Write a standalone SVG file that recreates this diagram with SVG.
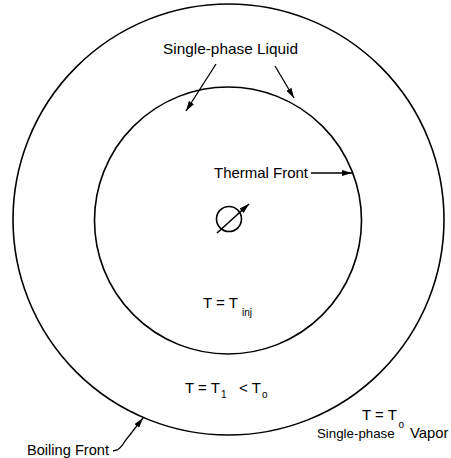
<svg xmlns="http://www.w3.org/2000/svg" width="451" height="458" viewBox="0 0 451 458">
<defs>
<style>
.ln{fill:none;stroke:#000;stroke-width:1.6}
.ar{fill:none;stroke:#000;stroke-width:1.3}
text,tspan{font-family:"Liberation Sans",Arial,sans-serif;font-size:15px;fill:#000}
.sub{font-size:10px;fill:#000}
</style>
<marker id="ah" viewBox="0 0 10 6" refX="10" refY="3" markerWidth="10" markerHeight="6" markerUnits="userSpaceOnUse" orient="auto">
<path d="M0,0 L10,3 L0,6 Z" fill="#000"/>
</marker>
</defs>
<rect width="451" height="458" fill="#fff"/>
<g id="boiling-front"><circle class="ln" cx="228.5" cy="219.5" r="215.5"/></g>
<g id="thermal-front"><circle class="ln" cx="228" cy="220.5" r="133.5"/></g>
<g id="well">
<circle class="ln" cx="229" cy="219" r="12.5"/>
<line class="ln" x1="217" y1="233" x2="249" y2="204" marker-end="url(#ah)"/>
</g>
<g id="connectors">
<line class="ar" x1="216" y1="64" x2="186" y2="111" marker-end="url(#ah)"/>
<line class="ar" x1="275" y1="66" x2="294" y2="98" marker-end="url(#ah)"/>
<line class="ar" x1="311" y1="173" x2="352" y2="173" marker-end="url(#ah)"/>
<path class="ar" d="M113,451 L117,450 Q121,448 125,441 L143,418" marker-end="url(#ah)"/>
</g>
<g id="labels">
<text x="163" y="54" textLength="135" lengthAdjust="spacingAndGlyphs">Single-phase  Liquid</text>
<text x="214" y="178" textLength="94" lengthAdjust="spacingAndGlyphs">Thermal  Front</text>
<text x="203" y="308">T = T<tspan class="sub" x="242" y="316">inj</tspan></text>
<text x="185" y="393">T = T<tspan class="sub" x="221" y="398">1</tspan><tspan x="239" y="393">&lt; T</tspan><tspan class="sub" x="262" y="398">o</tspan></text>
<text x="362" y="420">T = T</text>
<text class="sub" x="398.5" y="428">o</text>
<text x="317" y="438" style="font-size:13.3px">Single-phase</text>
<text x="410" y="438" style="font-size:14.8px">Vapor</text>
<text x="27" y="455" textLength="82" lengthAdjust="spacingAndGlyphs">Boiling  Front</text>
</g>
</svg>
